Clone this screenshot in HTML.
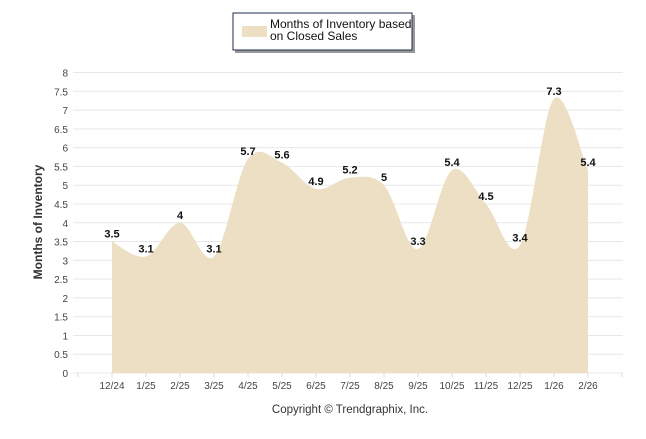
<!DOCTYPE html>
<html><head><meta charset="utf-8"><style>
body{margin:0;background:#fff;font-family:"Liberation Sans",Arial,sans-serif}
svg text{font-family:"Liberation Sans",Arial,sans-serif}
</style></head><body>
<svg id="c" width="646" height="434">
<g>
<rect x="235" y="15" width="180" height="38" fill="#555" opacity="0.6"/>
<rect x="233" y="13" width="179" height="37" fill="#fff" stroke="#1f2f4f" stroke-width="1"/>
<rect x="242" y="26" width="25" height="11" fill="#ecdfc4"/>
<text x="270" y="28" font-size="12" fill="#111">Months of Inventory based</text>
<text x="270" y="40" font-size="12" fill="#111">on Closed Sales</text>
</g>
<g id="grid"></g><g id="area"></g><g id="labels"></g>
<text x="42" y="222" transform="rotate(-90 42 222)" text-anchor="middle" font-size="12" font-weight="bold" fill="#333">Months of Inventory</text>
<text x="350" y="413" text-anchor="middle" font-size="11.5" fill="#333">Copyright © Trendgraphix, Inc.</text>
</svg>
<script>
const categories=["12/24","1/25","2/25","3/25","4/25","5/25","6/25","7/25","8/25","9/25","10/25","11/25","12/25","1/26","2/26"];
const values=[3.5,3.1,4,3.1,5.7,5.6,4.9,5.2,5,3.3,5.4,4.5,3.4,7.3,5.4];
const yTicks=[0,0.5,1,1.5,2,2.5,3,3.5,4,4.5,5,5.5,6,6.5,7,7.5,8];
const NS="http://www.w3.org/2000/svg";
const X0=78,STEP=34,Y0=373,YT=72.5,YMAX=8,XEND=623;
const xs=i=>X0+STEP*(i+1);
const ys=v=>Y0-(Y0-YT)*v/YMAX;
function mk(t,a,p){const e=document.createElementNS(NS,t);for(const k in a)e.setAttribute(k,a[k]);p.appendChild(e);return e;}
const g=document.getElementById('grid');
yTicks.forEach(t=>{
 const l=mk('line',{x1:73,x2:XEND,y1:ys(t),y2:ys(t),stroke:'#e8e8e8','stroke-width':1},g);
 
 
 const tx=mk('text',{x:68,y:ys(t)+4,'text-anchor':'end','font-size':10,fill:'#444'},g);
 tx.textContent=t;
 
 
});
for(let i=0;i<=categories.length+1;i++){mk('line',{x1:X0+STEP*i,x2:X0+STEP*i,y1:Y0,y2:Y0+4,stroke:'#ddd'},g);}
categories.forEach((c,i)=>{
 const tx=mk('text',{x:xs(i),y:Y0+16,'text-anchor':'middle','font-size':10,fill:'#444'},g);
 tx.textContent=c;
 
 
});
const P=values.map((v,i)=>[xs(i),ys(v)]);
let d=`M${P[0][0]},${Y0}L${P[0][0]},${P[0][1]}`;
const tn=0.5;
for(let i=0;i<P.length-1;i++){
 const p0=P[i-1]||P[i],p1=P[i],p2=P[i+1],p3=P[i+2]||P[i+1];
 const c1=[p1[0]+(p2[0]-p0[0])*tn/3,p1[1]+(p2[1]-p0[1])*tn/3];
 const c2=[p2[0]-(p3[0]-p1[0])*tn/3,p2[1]-(p3[1]-p1[1])*tn/3];
 d+=`C${c1[0]},${c1[1]} ${c2[0]},${c2[1]} ${p2[0]},${p2[1]}`;
}
d+=`L${P[P.length-1][0]},${Y0}Z`;
const a=mk('path',{d:d,fill:'#ecdfc4'},document.getElementById('area'));


const lg=document.getElementById('labels');
values.forEach((v,i)=>{
 const tx=mk('text',{x:xs(i),y:ys(v)-4,'text-anchor':'middle','font-size':11,'font-weight':'bold',fill:'#111'},lg);
 tx.textContent=v;
 
 
});
</script>
</body></html>
